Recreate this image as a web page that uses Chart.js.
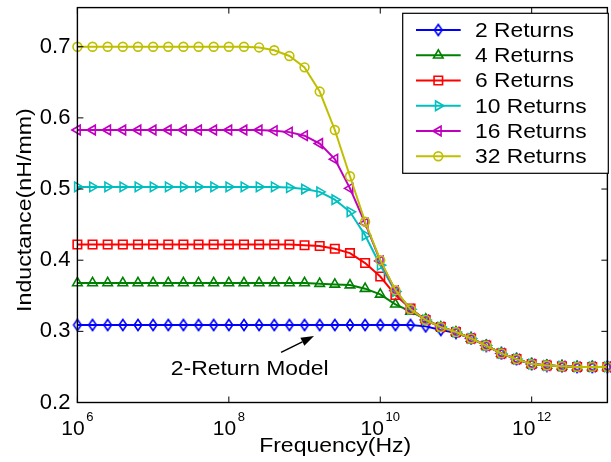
<!DOCTYPE html>
<html>
<head>
<meta charset="utf-8">
<script src="https://cdn.jsdelivr.net/npm/chart.js@4.4.1/dist/chart.umd.min.js"></script>
<style>
  html, body { margin: 0; padding: 0; background: #fff; overflow: hidden; }
  canvas { display: block; }
</style>
</head>
<body>
<canvas id="chart" width="615" height="462"></canvas>
<script>
// frequency points, as powers of ten (Hz)
const freqExp = [6.0, 6.2, 6.4, 6.6, 6.8, 7.0, 7.2, 7.4, 7.6, 7.8,
  8.0, 8.2, 8.4, 8.6, 8.8, 9.0, 9.2, 9.4, 9.6, 9.8,
  10.0, 10.2, 10.4, 10.6, 10.8, 11.0, 11.2, 11.4, 11.6, 11.8,
  12.0, 12.2, 12.4, 12.6, 12.8, 13.0]

const seriesLabels = ["2 Returns", "4 Returns", "6 Returns", "10 Returns", "16 Returns", "32 Returns"]

// inductance (nH/mm)
const ret2 = [0.309, 0.309, 0.309, 0.309, 0.309, 0.309, 0.309, 0.309, 0.309, 0.309,
  0.309, 0.309, 0.309, 0.309, 0.309, 0.309, 0.309, 0.309, 0.309, 0.309,
  0.309, 0.309, 0.309, 0.307, 0.302, 0.298, 0.290, 0.280, 0.269, 0.261,
  0.254, 0.252, 0.251, 0.250, 0.250, 0.250]
const ret4 = [0.368, 0.368, 0.368, 0.368, 0.368, 0.368, 0.368, 0.368, 0.368, 0.368,
  0.368, 0.368, 0.368, 0.368, 0.368, 0.368, 0.367, 0.366, 0.365, 0.360,
  0.352, 0.338, 0.328, 0.317, 0.306, 0.299, 0.290, 0.280, 0.269, 0.261,
  0.254, 0.252, 0.251, 0.250, 0.250, 0.250]
const ret6 = [0.422, 0.422, 0.422, 0.422, 0.422, 0.422, 0.422, 0.422, 0.422, 0.422,
  0.422, 0.422, 0.422, 0.422, 0.422, 0.421, 0.420, 0.416, 0.410, 0.396,
  0.377, 0.351, 0.332, 0.316, 0.306, 0.299, 0.290, 0.280, 0.269, 0.261,
  0.254, 0.252, 0.251, 0.250, 0.250, 0.250]
const ret10 = [0.503, 0.503, 0.503, 0.503, 0.503, 0.503, 0.503, 0.503, 0.503, 0.503,
  0.503, 0.503, 0.503, 0.503, 0.502, 0.500, 0.496, 0.485, 0.468, 0.435,
  0.393, 0.356, 0.331, 0.316, 0.306, 0.299, 0.290, 0.280, 0.269, 0.261,
  0.254, 0.252, 0.251, 0.250, 0.250, 0.250]
const ret16 = [0.583, 0.583, 0.583, 0.583, 0.583, 0.583, 0.583, 0.583, 0.583, 0.583,
  0.583, 0.583, 0.583, 0.582, 0.580, 0.575, 0.564, 0.542, 0.501, 0.452,
  0.399, 0.357, 0.331, 0.316, 0.306, 0.299, 0.290, 0.280, 0.269, 0.261,
  0.254, 0.252, 0.251, 0.250, 0.250, 0.250]
const ret32 = [0.700, 0.700, 0.700, 0.700, 0.700, 0.700, 0.700, 0.700, 0.700, 0.700,
  0.700, 0.700, 0.699, 0.695, 0.687, 0.671, 0.637, 0.583, 0.518, 0.454,
  0.400, 0.358, 0.331, 0.316, 0.306, 0.299, 0.290, 0.280, 0.269, 0.261,
  0.254, 0.252, 0.251, 0.250, 0.250, 0.250]

const xTickExp = [6, 8, 10, 12]
const yTicks = [0.2, 0.3, 0.4, 0.5, 0.6, 0.7]

// annotation: arrow from/to (Hz, nH/mm) and label anchor
const noteText = "2-Return Model"
const noteAt = [10 ** 8.276, 0.2386]
const arrowFrom = [10 ** 8.69, 0.2705]
const arrowTo = [10 ** 9.125, 0.2934]

const FONT = '"Liberation Sans", Arial, Helvetica, sans-serif'
const colors = ["#0000ff", "#008000", "#ff0000", "#00bfbf", "#bf00bf", "#bfbf00"]
const allSeries = [ret2, ret4, ret6, ret10, ret16, ret32]

// narrow MATLAB style diamond
function makeDiamond(color) {
  const c = document.createElement("canvas")
  c.width = 12
  c.height = 14
  const g = c.getContext("2d")
  g.strokeStyle = color
  g.lineWidth = 1.6
  g.beginPath()
  g.moveTo(6, 1.5)
  g.lineTo(9.8, 7)
  g.lineTo(6, 12.5)
  g.lineTo(2.2, 7)
  g.closePath()
  g.stroke()
  return c
}

const markers = [
  { pointStyle: makeDiamond(colors[0]), rotation: 0, radius: 5 },
  { pointStyle: "triangle", rotation: 0, radius: 5.5 },
  { pointStyle: "rect", rotation: 0, radius: 6 },
  { pointStyle: "triangle", rotation: 90, radius: 5.5 },
  { pointStyle: "triangle", rotation: -90, radius: 5.5 },
  { pointStyle: "circle", rotation: 0, radius: 4.4 },
]

const datasets = allSeries.map((vals, i) => ({
  label: seriesLabels[i],
  data: vals.map((v, k) => ({ x: 10 ** freqExp[k], y: v })),
  borderColor: colors[i],
  backgroundColor: "rgba(0,0,0,0)",
  borderWidth: 2,
  pointStyle: markers[i].pointStyle,
  pointRotation: markers[i].rotation,
  pointRadius: markers[i].radius,
  pointBorderWidth: 1.6,
  pointBorderColor: colors[i],
  pointBackgroundColor: "rgba(0,0,0,0)",
  tension: 0,
  fill: false,
  clip: false,
  order: allSeries.length - 1 - i,
}))

function wideText(ctx, text, x, y, size, sx, align, rot) {
  ctx.save()
  ctx.translate(x, y)
  if (rot) ctx.rotate(rot)
  ctx.scale(sx, 1)
  ctx.font = size + "px " + FONT
  ctx.textAlign = align
  ctx.textBaseline = "alphabetic"
  ctx.fillStyle = "#000"
  ctx.fillText(text, 0, 0)
  ctx.restore()
}

const matlabAxes = {
  id: "matlabAxes",
  afterDatasetsDraw(chart) {
    const { ctx, chartArea: a } = chart
    const x = chart.scales.x
    const y = chart.scales.y
    ctx.save()

    // box and inward ticks
    ctx.strokeStyle = "#000"
    ctx.lineWidth = 1
    ctx.beginPath()
    x.ticks.forEach((t) => {
      const px = x.getPixelForValue(t.value)
      ctx.moveTo(px, a.bottom)
      ctx.lineTo(px, a.bottom - 6)
      ctx.moveTo(px, a.top)
      ctx.lineTo(px, a.top + 6)
    })
    y.ticks.forEach((t) => {
      const py = y.getPixelForValue(t.value)
      ctx.moveTo(a.left, py)
      ctx.lineTo(a.left + 6, py)
      ctx.moveTo(a.right, py)
      ctx.lineTo(a.right - 6, py)
    })
    ctx.stroke()
    ctx.lineWidth = 1.4
    ctx.strokeRect(a.left, a.top, a.width, a.height)

    // x tick labels 10^n
    x.ticks.forEach((t) => {
      const px = x.getPixelForValue(t.value)
      const ex = String(Math.round(Math.log10(t.value)))
      ctx.font = "21px " + FONT
      const wb = ctx.measureText("10").width
      ctx.font = "13px " + FONT
      const we = ctx.measureText(ex).width
      const x0 = px - (wb + 1.5 + we) / 2
      ctx.fillStyle = "#000"
      ctx.textAlign = "left"
      ctx.textBaseline = "alphabetic"
      ctx.font = "21px " + FONT
      ctx.fillText("10", x0, a.bottom + 32.5)
      ctx.font = "13px " + FONT
      ctx.fillText(ex, x0 + wb + 1.5, a.bottom + 18)
    })

    // axis titles
    wideText(ctx, "Frequency(Hz)", 335.2, a.bottom + 49.2, 20, 1.15, "center")
    wideText(ctx, "Inductance(nH/mm)", 30.7, (a.top + a.bottom) / 2 + 5, 20, 1.16, "center", -Math.PI / 2)

    // annotation
    const fx = x.getPixelForValue(arrowFrom[0])
    const fy = y.getPixelForValue(arrowFrom[1])
    const tx = x.getPixelForValue(arrowTo[0])
    const ty = y.getPixelForValue(arrowTo[1])
    const ang = Math.atan2(ty - fy, tx - fx)
    const hl = 13
    const hw = 4.5
    const bx = tx - hl * Math.cos(ang)
    const by = ty - hl * Math.sin(ang)
    ctx.strokeStyle = "#000"
    ctx.lineWidth = 1.5
    ctx.beginPath()
    ctx.moveTo(fx, fy)
    ctx.lineTo(bx, by)
    ctx.stroke()
    ctx.fillStyle = "#000"
    ctx.beginPath()
    ctx.moveTo(tx, ty)
    ctx.lineTo(bx + hw * Math.sin(ang), by - hw * Math.cos(ang))
    ctx.lineTo(bx - hw * Math.sin(ang), by + hw * Math.cos(ang))
    ctx.closePath()
    ctx.fill()
    wideText(ctx, noteText, x.getPixelForValue(noteAt[0]), y.getPixelForValue(noteAt[1]), 21, 1.09, "center")

    // legend
    const lx = 402.7, ly = 13.3, lw = 205.6, lh = 160
    ctx.fillStyle = "#fff"
    ctx.fillRect(lx, ly, lw, lh)
    ctx.strokeStyle = "#000"
    ctx.lineWidth = 1.2
    ctx.strokeRect(lx, ly, lw, lh)
    chart.data.datasets.forEach((ds, i) => {
      const cy = 30 + i * 25.25
      ctx.strokeStyle = ds.borderColor
      ctx.lineWidth = 2
      ctx.beginPath()
      ctx.moveTo(416, cy)
      ctx.lineTo(460.7, cy)
      ctx.stroke()
      ctx.lineWidth = 1.6
      ctx.fillStyle = "rgba(0,0,0,0)"
      Chart.helpers.drawPoint(ctx, {
        pointStyle: ds.pointStyle,
        rotation: ds.pointRotation,
        radius: ds.pointRadius,
        borderWidth: 1.6,
      }, 438.3, cy)
      wideText(ctx, ds.label, 475, cy + 6.9, 20, 1.14, "left")
    })

    ctx.restore()
  },
}

new Chart(document.getElementById("chart"), {
  type: "line",
  data: { datasets },
  options: {
    responsive: false,
    animation: false,
    devicePixelRatio: 1,
    layout: { padding: { left: 0, top: 7.3, right: 1.6, bottom: 0 } },
    plugins: { legend: { display: false }, tooltip: { enabled: false } },
    scales: {
      x: {
        type: "logarithmic",
        min: 1e6,
        max: 1e13,
        afterBuildTicks: (s) => { s.ticks = xTickExp.map((e) => ({ value: 10 ** e })) },
        afterFit: (s) => { s.height = 59.5; s.paddingLeft = 0; s.paddingRight = 0 },
        ticks: { display: false },
        grid: { display: false, drawTicks: false },
        border: { display: false },
      },
      y: {
        type: "linear",
        min: 0.2,
        max: 0.755,
        afterBuildTicks: (s) => { s.ticks = yTicks.map((v) => ({ value: v })) },
        afterFit: (s) => { s.width = 77.4; s.paddingTop = 0; s.paddingBottom = 0 },
        ticks: {
          padding: 7,
          color: "#000",
          font: { family: FONT, size: 22 },
          callback: (v) => v.toFixed(1),
        },
        grid: { display: false, drawTicks: false },
        border: { display: false },
      },
    },
  },
  plugins: [matlabAxes],
})
</script>
</body>
</html>
